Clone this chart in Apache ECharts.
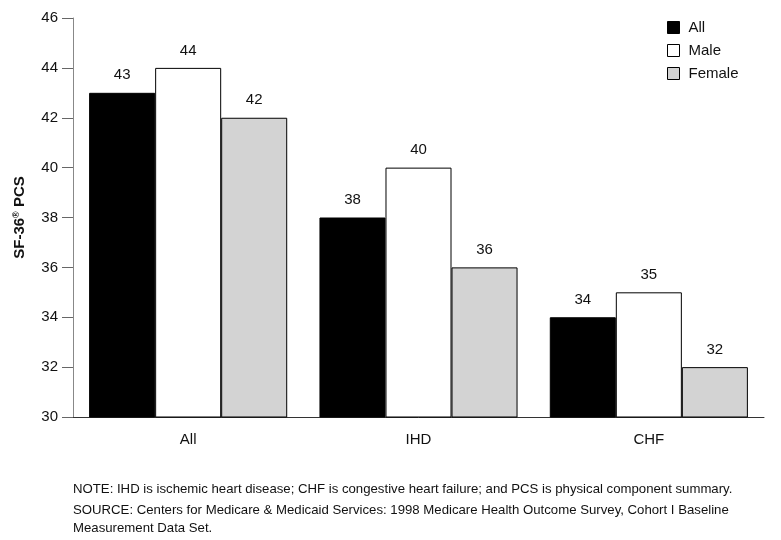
<!DOCTYPE html>
<html>
<head>
<meta charset="utf-8">
<script src="https://cdn.jsdelivr.net/npm/echarts@6/dist/echarts.min.js"></script>
<style>
html,body{margin:0;padding:0;background:#fff;}
#c{width:781px;height:540px;}
</style>
</head>
<body>
<div id="c"></div>
<script>
var categories = ['All', 'IHD', 'CHF'];
var allValues = [43, 38, 34];
var maleValues = [44, 40, 35];
var femaleValues = [42, 36, 32];
var yTicks = [30, 32, 34, 36, 38, 40, 42, 44, 46];
var noteLines = [
  'NOTE: IHD is ischemic heart disease; CHF is congestive heart failure; and PCS is physical component summary.',
  'SOURCE: Centers for Medicare & Medicaid Services: 1998 Medicare Health Outcome Survey, Cohort I Baseline',
  'Measurement Data Set.'
];

var FONT = 'Liberation Sans, Arial, Helvetica, sans-serif';

function barSeries(name, data, color) {
  return {
    name: name,
    type: 'bar',
    data: data,
    barGap: '0%',
    barCategoryGap: '14%',
    itemStyle: { color: color, borderColor: '#000', borderWidth: 1 },
    label: {
      show: true, position: 'top', distance: 10,
      color: '#111', fontSize: 15, fontFamily: FONT
    }
  };
}

var chart = echarts.init(document.getElementById('c'), null, { renderer: 'canvas' });
chart.setOption({
  backgroundColor: '#fff',
  animation: false,
  grid: { left: 73, right: 17, top: 18, bottom: 123, containLabel: false },
  legend: {
    orient: 'vertical',
    left: 662, top: 15,
    itemWidth: 12, itemHeight: 12, itemGap: 8,
    icon: 'rect',
    itemStyle: { borderWidth: 1, borderColor: '#000' },
    textStyle: { fontSize: 15, fontFamily: FONT, color: '#111', padding: [0, 0, 0, 4] },
    data: ['All', 'Male', 'Female']
  },
  xAxis: {
    type: 'category',
    data: categories,
    axisLine: { lineStyle: { color: '#333', width: 1 } },
    axisTick: { show: false },
    axisLabel: { color: '#111', fontSize: 15, fontFamily: FONT, margin: 15 }
  },
  yAxis: {
    type: 'value',
    min: yTicks[0], max: yTicks[yTicks.length - 1], interval: 2,
    name: '{a|SF-36}{s|®}{a| PCS}',
    nameLocation: 'middle',
    nameGap: 46,
    nameRotate: 90,
    nameTextStyle: {
      rich: {
        a: { fontSize: 15, fontWeight: 'bold', fontFamily: FONT, color: '#111' },
        s: { fontSize: 9, fontWeight: 'bold', fontFamily: FONT, color: '#111', verticalAlign: 'top', padding: [0, 0, 6, 0] }
      }
    },
    splitLine: { show: false },
    axisLine: { show: true, lineStyle: { color: '#888', width: 1 } },
    axisTick: { show: true, inside: false, length: 11, lineStyle: { color: '#666' } },
    axisLabel: { color: '#111', fontSize: 15, fontFamily: FONT, margin: 15 }
  },
  graphic: noteLines.map(function (t, i) {
    return {
      type: 'text', left: 73, top: [483, 504, 522][i],
      style: { text: t, fill: '#111', fontSize: 13.2, fontFamily: FONT }
    };
  }),
  series: [
    barSeries('All', allValues, '#000'),
    barSeries('Male', maleValues, '#fff'),
    barSeries('Female', femaleValues, '#d3d3d3')
  ]
});
</script>
</body>
</html>
